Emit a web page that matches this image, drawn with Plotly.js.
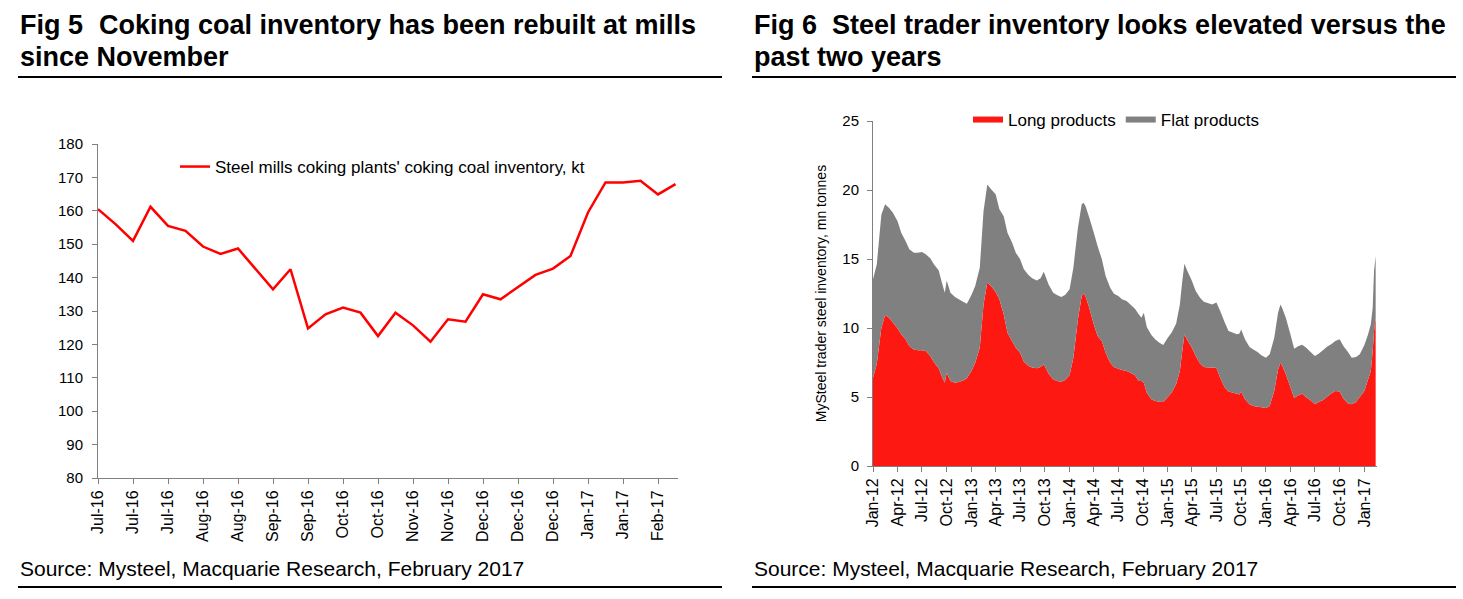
<!DOCTYPE html>
<html>
<head>
<meta charset="utf-8">
<script src="https://cdn.plot.ly/plotly-3.0.1.min.js"></script>
<style>
html,body{margin:0;padding:0;background:#fff;}
#chart{width:1463px;height:599px;}
</style>
</head>
<body>
<div id="chart"></div>
<script>
// ---------- Fig 5 data: weekly coking coal inventory (kt) ----------
const coalWeeks = ['2016-07-01','2016-07-08','2016-07-15','2016-07-22','2016-07-29','2016-08-05','2016-08-12','2016-08-19','2016-08-26','2016-09-02','2016-09-09','2016-09-16','2016-09-23','2016-09-30','2016-10-07','2016-10-14','2016-10-21','2016-10-28','2016-11-04','2016-11-11','2016-11-18','2016-11-25','2016-12-02','2016-12-09','2016-12-16','2016-12-23','2016-12-30','2017-01-06','2017-01-13','2017-01-20','2017-01-27','2017-02-03','2017-02-10','2017-02-17'];
const coalInventory = [160.5,156,151,161.2,155.5,154,149.3,147.1,148.7,142.5,136.5,142.5,124.8,129,131,129.5,122.5,129.5,125.7,120.8,127.5,126.8,135,133.5,137.2,140.8,142.7,146.5,159.5,168.5,168.5,169,164.9,168];
const coalSeriesName = "Steel mills coking plants' coking coal inventory, kt";

// ---------- Fig 6 data: trader inventory (mn tonnes) ----------
const traderDates = ['2012-01-01','2012-01-15','2012-02-01','2012-02-15','2012-03-01','2012-03-15','2012-04-01','2012-04-15','2012-05-01','2012-05-15','2012-06-01','2012-06-15','2012-07-01','2012-07-15','2012-08-01','2012-08-15','2012-09-01','2012-09-15','2012-09-24','2012-10-01','2012-10-15','2012-11-01','2012-11-15','2012-12-01','2012-12-15',
'2013-01-01','2013-01-15','2013-02-01','2013-02-15','2013-03-01','2013-03-15','2013-04-01','2013-04-15','2013-05-01','2013-05-15','2013-06-01','2013-06-15','2013-07-01','2013-07-15','2013-08-01','2013-08-15','2013-09-01','2013-09-15','2013-09-27','2013-10-15','2013-11-01','2013-11-15','2013-12-01','2013-12-15',
'2014-01-01','2014-01-15','2014-02-01','2014-02-15','2014-02-22','2014-03-01','2014-03-15','2014-04-01','2014-04-15','2014-05-01','2014-05-15','2014-06-01','2014-06-15','2014-07-01','2014-07-15','2014-08-01','2014-08-15','2014-09-01','2014-09-15','2014-09-25','2014-10-04','2014-10-15','2014-11-01','2014-11-15','2014-12-01','2014-12-15',
'2015-01-01','2015-01-15','2015-02-01','2015-02-15','2015-02-24','2015-03-04','2015-03-15','2015-04-01','2015-04-15','2015-05-01','2015-05-15','2015-06-01','2015-06-15','2015-07-01','2015-07-15','2015-08-01','2015-08-15','2015-09-01','2015-09-15','2015-09-24','2015-10-01','2015-10-15','2015-11-01','2015-11-15','2015-12-01','2015-12-15',
'2016-01-01','2016-01-15','2016-02-01','2016-02-15','2016-02-24','2016-03-01','2016-03-15','2016-04-01','2016-04-15','2016-05-01','2016-05-15','2016-06-01','2016-06-15','2016-07-01','2016-07-15','2016-08-01','2016-08-15','2016-09-01','2016-09-15','2016-10-01','2016-10-15','2016-11-01','2016-11-15','2016-12-01','2016-12-15',
'2017-01-01','2017-01-15','2017-01-25','2017-02-01','2017-02-06','2017-02-12'];
const longProducts = [6.40,7.4,10.0,10.94,10.75,10.4,9.98,9.54,9.18,8.7,8.45,8.38,8.38,8.33,7.97,7.5,7.08,6.4,6.04,6.76,6.16,6.04,6.09,6.2,6.35,
6.88,7.49,8.57,11.7,13.3,13.04,12.6,12.08,11.0,9.66,9.06,8.57,8.2,7.56,7.25,7.13,7.08,7.17,7.37,6.69,6.28,6.16,6.11,6.23,
6.59,7.85,10.63,12.32,12.49,12.32,11.47,10.27,9.42,9.06,8.2,7.49,7.17,7.05,6.96,6.88,6.76,6.57,6.16,6.16,6.04,5.31,4.83,4.71,4.66,4.64,
5.0,5.31,5.92,6.88,8.33,9.54,9.11,8.57,7.97,7.42,7.17,7.13,7.13,7.1,6.4,5.68,5.39,5.31,5.24,5.19,5.39,4.83,4.47,4.35,4.3,4.25,
4.2,4.35,5.43,7.0,7.49,7.3,6.64,5.72,4.93,5.12,5.24,4.95,4.76,4.47,4.64,4.78,5.02,5.27,5.43,5.39,4.9,4.52,4.47,4.64,5.0,
5.43,6.28,6.88,8.33,9.78,10.75];
const flatProducts = [7.13,7.2,8.2,8.02,7.95,7.96,7.77,7.36,7.12,7.0,7.01,7.08,7.12,7.01,7.08,7.1,7.1,6.76,6.52,6.69,6.4,6.21,5.99,5.7,5.41,
5.52,5.55,5.8,6.78,7.1,7.01,7.1,6.52,7.1,7.24,7.14,6.89,6.78,6.69,6.59,6.47,6.37,6.43,6.71,6.47,6.28,6.23,6.14,6.16,
6.21,6.52,6.64,6.64,6.59,6.52,6.53,6.63,6.52,5.92,5.57,5.43,5.32,5.27,5.12,5.08,4.95,4.83,4.83,4.59,5.07,4.76,4.66,4.47,4.28,4.13,
4.3,4.35,4.39,4.83,5.07,5.12,5.02,4.83,4.71,4.78,4.73,4.66,4.58,4.74,4.83,4.71,4.39,4.35,4.3,4.4,4.51,4.35,4.15,4.1,3.96,3.77,
3.65,3.74,3.87,4.11,4.22,4.17,4.11,3.82,3.57,3.58,3.55,3.58,3.5,3.5,3.5,3.63,3.63,3.57,3.63,3.79,3.8,3.74,3.38,3.26,3.09,
3.34,3.26,3.39,3.14,4.35,4.47];

// ---------- layout helpers (pixel -> paper) ----------
const W = 1463, H = 599;
const px = x => x / W;
const py = y => 1 - y / H;

const FONT = 'Liberation Sans, Arial, sans-serif';
const NARROW = 'Liberation Sans Narrow, Arial Narrow, Liberation Sans, sans-serif';

const traces = [
  {
    x: coalWeeks, y: coalInventory, name: coalSeriesName,
    type: 'scatter', mode: 'lines',
    line: {color: '#ff0000', width: 2.5},
    xaxis: 'x', yaxis: 'y', legend: 'legend'
  },
  {
    x: traderDates, y: longProducts, name: 'Long products',
    type: 'scatter', mode: 'none', stackgroup: 'inv',
    fillcolor: '#fe1812',
    xaxis: 'x2', yaxis: 'y2', legend: 'legend2'
  },
  {
    x: traderDates, y: flatProducts, name: 'Flat products',
    type: 'scatter', mode: 'none', stackgroup: 'inv',
    fillcolor: '#808080',
    xaxis: 'x2', yaxis: 'y2', legend: 'legend2'
  }
];

const axisCommon = {
  showgrid: false, zeroline: false, showline: true,
  linecolor: '#808080', linewidth: 1,
  ticks: 'outside', ticklen: 5, tickcolor: '#808080', tickwidth: 1,
  tickfont: {family: FONT, size: 16, color: '#000'}
};

const layout = {
  width: W, height: H,
  margin: {l: 0, r: 0, t: 0, b: 0},
  paper_bgcolor: '#fff', plot_bgcolor: '#fff',
  font: {family: FONT, color: '#000'},
  showlegend: true,
  xaxis: Object.assign({}, axisCommon, {
    type: 'date', domain: [px(98), px(678)],
    range: ['2016-07-01', '2017-02-18'],
    tick0: '2016-07-01', dtick: 14 * 86400000,
    tickformat: '%b-%y', tickangle: -90, anchor: 'y'
  }),
  yaxis: Object.assign({}, axisCommon, {
    domain: [py(478), py(144)], range: [80, 180], dtick: 10, anchor: 'x',
    tickfont: {family: FONT, size: 15, color: '#000'}, ticklabelstandoff: 6
  }),
  xaxis2: Object.assign({}, axisCommon, {
    type: 'date', domain: [px(873), px(1377)],
    range: ['2012-01-01', '2017-02-17'],
    tick0: '2012-01-01', dtick: 'M3',
    tickformat: '%b-%y', tickangle: -90, anchor: 'y2'
  }),
  yaxis2: Object.assign({}, axisCommon, {
    domain: [py(466), py(121)], range: [0, 25], dtick: 5, anchor: 'x2',
    tickfont: {family: FONT, size: 15, color: '#000'}, ticklabelstandoff: 5,
    title: {text: 'MySteel trader steel inventory, mn tonnes', font: {family: FONT, size: 14, color: '#000'}, standoff: 12}
  }),
  legend: {
    x: px(175), y: py(167), xanchor: 'left', yanchor: 'middle',
    bgcolor: 'rgba(0,0,0,0)', font: {family: FONT, size: 17, color: '#000'}
  },
  legend2: {
    orientation: 'h', traceorder: 'normal', x: px(968), y: py(120), xanchor: 'left', yanchor: 'middle',
    bgcolor: 'rgba(0,0,0,0)', font: {family: FONT, size: 17, color: '#000'}
  },
  annotations: [
    {text: '<b>Fig 5</b>', x: px(18), y: py(25), xref: 'paper', yref: 'paper', xanchor: 'left', yanchor: 'middle', showarrow: false, font: {family: NARROW, size: 27, color: '#000'}},
    {text: '<b>Coking coal inventory has been rebuilt at mills</b>', x: px(97), y: py(25), xref: 'paper', yref: 'paper', xanchor: 'left', yanchor: 'middle', showarrow: false, font: {family: NARROW, size: 27, color: '#000'}},
    {text: '<b>since November</b>', x: px(18), y: py(57), xref: 'paper', yref: 'paper', xanchor: 'left', yanchor: 'middle', showarrow: false, font: {family: NARROW, size: 27, color: '#000'}},
    {text: '<b>Fig 6</b>', x: px(752), y: py(25), xref: 'paper', yref: 'paper', xanchor: 'left', yanchor: 'middle', showarrow: false, font: {family: NARROW, size: 27, color: '#000'}},
    {text: '<b>Steel trader inventory looks elevated versus the</b>', x: px(830), y: py(25), xref: 'paper', yref: 'paper', xanchor: 'left', yanchor: 'middle', showarrow: false, font: {family: NARROW, size: 27, color: '#000'}},
    {text: '<b>past two years</b>', x: px(752), y: py(57), xref: 'paper', yref: 'paper', xanchor: 'left', yanchor: 'middle', showarrow: false, font: {family: NARROW, size: 27, color: '#000'}},
    {text: 'Source: Mysteel, Macquarie Research, February 2017', x: px(18), y: py(568), xref: 'paper', yref: 'paper', xanchor: 'left', yanchor: 'middle', showarrow: false, font: {family: FONT, size: 21, color: '#000'}},
    {text: 'Source: Mysteel, Macquarie Research, February 2017', x: px(752), y: py(568), xref: 'paper', yref: 'paper', xanchor: 'left', yanchor: 'middle', showarrow: false, font: {family: FONT, size: 21, color: '#000'}}
  ],
  shapes: [
    {type: 'line', xref: 'paper', yref: 'paper', x0: px(18), x1: px(722), y0: py(77), y1: py(77), line: {color: '#000', width: 2}},
    {type: 'line', xref: 'paper', yref: 'paper', x0: px(752), x1: px(1456), y0: py(77), y1: py(77), line: {color: '#000', width: 2}},
    {type: 'line', xref: 'paper', yref: 'paper', x0: px(18), x1: px(722), y0: py(587), y1: py(587), line: {color: '#000', width: 2}},
    {type: 'line', xref: 'paper', yref: 'paper', x0: px(752), x1: px(1456), y0: py(587), y1: py(587), line: {color: '#000', width: 2}}
  ]
};

Plotly.newPlot('chart', traces, layout, {staticPlot: true, displayModeBar: false});
</script>
</body>
</html>
